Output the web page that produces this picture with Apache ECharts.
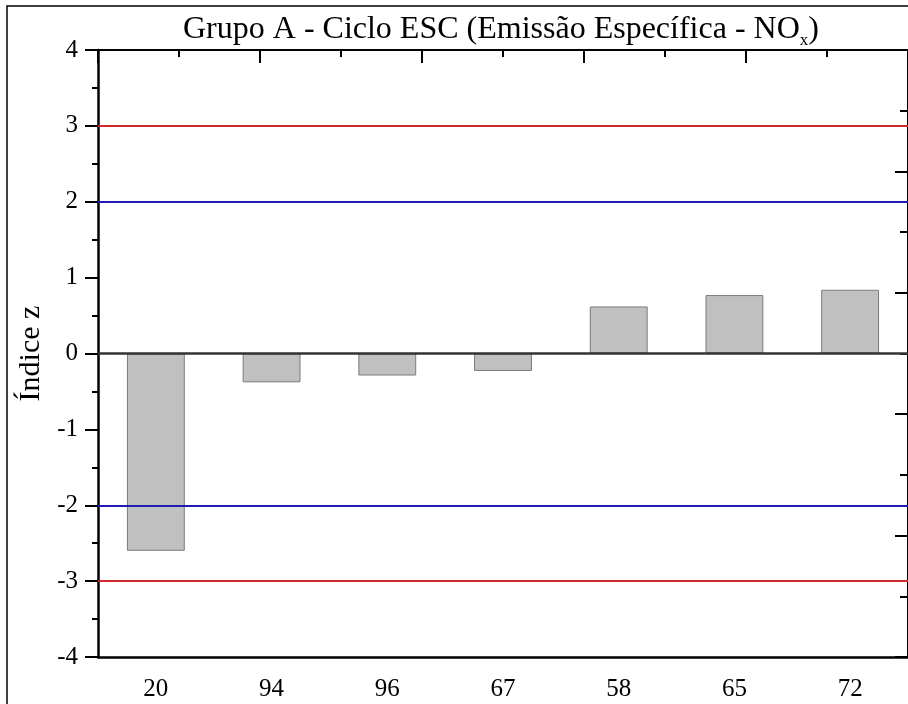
<!DOCTYPE html>
<html>
<head>
<meta charset="utf-8">
<script src="https://cdn.jsdelivr.net/npm/echarts@6/dist/echarts.min.js"></script>
<style>
  html, body { margin: 0; padding: 0; background: #fff; }
  #chart { width: 908px; height: 704px; }
</style>
</head>
<body>
<div id="chart"></div>
<script>
// dados do gráfico
const categorias = ['20', '94', '96', '67', '58', '65', '72']
const indiceZ = [-2.6, -0.38, -0.29, -0.23, 0.62, 0.77, 0.84]
const limitesAlerta = [2, -2]   // linhas azuis
const limitesAcao = [3, -3]     // linhas vermelhas

const fonte = '"Liberation Serif", "Times New Roman", serif'

const chart = echarts.init(document.getElementById('chart'))

const linhas = []
limitesAcao.forEach(v => linhas.push({ yAxis: v, lineStyle: { color: '#d02828', width: 2, type: 'solid' } }))
limitesAlerta.forEach(v => linhas.push({ yAxis: v, lineStyle: { color: '#1c1cb4', width: 2, type: 'solid' } }))
linhas.push({ yAxis: 0, lineStyle: { color: '#333', width: 2.5, type: 'solid' } })

chart.setOption({
  animation: false,
  backgroundColor: '#fff',
  title: {
    text: 'Grupo A - Ciclo ESC (Emissão Específica - NO{sub|x})',
    left: 178,
    top: 5,
    textStyle: {
      fontFamily: fonte,
      fontWeight: 'normal',
      fontSize: 32,
      color: '#000',
      rich: {
        sub: { fontFamily: fonte, fontSize: 17, verticalAlign: 'bottom', padding: [22, 0, 0, 0], color: '#000' }
      }
    }
  },
  graphic: [
    {
      type: 'rect',
      shape: { x: 7, y: 6, width: 1000, height: 1000 },
      style: { fill: 'none', stroke: '#000', lineWidth: 1.5 },
      silent: true
    }
  ],
  grid: { left: 98, right: -7, top: 50, bottom: 47 },
  xAxis: [
    {
      type: 'category',
      data: categorias,
      position: 'bottom',
      axisLine: { onZero: false, lineStyle: { color: '#000', width: 2.5 } },
      axisTick: { alignWithLabel: true, length: 13, lineStyle: { color: '#000', width: 2 } },
      axisLabel: { color: '#000', fontFamily: fonte, fontSize: 25, margin: 20 },
      splitLine: { show: false }
    },
    {
      type: 'value',
      position: 'top',
      min: 0,
      max: 5,
      interval: 1,
      axisLine: { show: true, onZero: false, lineStyle: { color: '#000', width: 2 } },
      axisTick: { show: true, inside: true, length: 13, lineStyle: { color: '#000', width: 2 } },
      minorTick: { show: true, splitNumber: 2, length: 7, lineStyle: { color: '#000', width: 2 } },
      axisLabel: { show: false },
      splitLine: { show: false }
    }
  ],
  yAxis: [
    {
      type: 'value',
      min: -4,
      max: 4,
      interval: 1,
      name: 'Índice z',
      nameLocation: 'middle',
      nameRotate: 90,
      nameGap: 47,
      nameTextStyle: { fontFamily: fonte, fontSize: 30, color: '#000' },
      axisLine: { show: true, onZero: false, lineStyle: { color: '#000', width: 2.5 } },
      axisTick: { show: true, length: 13, lineStyle: { color: '#000', width: 2 } },
      minorTick: { show: true, splitNumber: 2, length: 6, lineStyle: { color: '#000', width: 2 } },
      axisLabel: { color: '#000', fontFamily: fonte, fontSize: 25, margin: 20 },
      splitLine: { show: false }
    },
    {
      type: 'value',
      position: 'right',
      min: 0,
      max: 5,
      interval: 1,
      axisLine: { show: true, onZero: false, lineStyle: { color: '#000', width: 2 } },
      axisTick: { show: true, inside: true, length: 13, lineStyle: { color: '#000', width: 2 } },
      minorTick: { show: true, splitNumber: 2, length: 8, lineStyle: { color: '#000', width: 2 } },
      axisLabel: { show: false },
      splitLine: { show: false }
    }
  ],
  series: [
    {
      name: 'Índice z',
      type: 'bar',
      xAxisIndex: 0,
      yAxisIndex: 0,
      data: indiceZ,
      barWidth: '50%',
      itemStyle: { color: '#c0c0c0', borderColor: '#7a7a7a', borderWidth: 1 },
      markLine: {
        silent: true,
        symbol: 'none',
        label: { show: false },
        data: linhas
      }
    }
  ]
})
</script>
</body>
</html>
